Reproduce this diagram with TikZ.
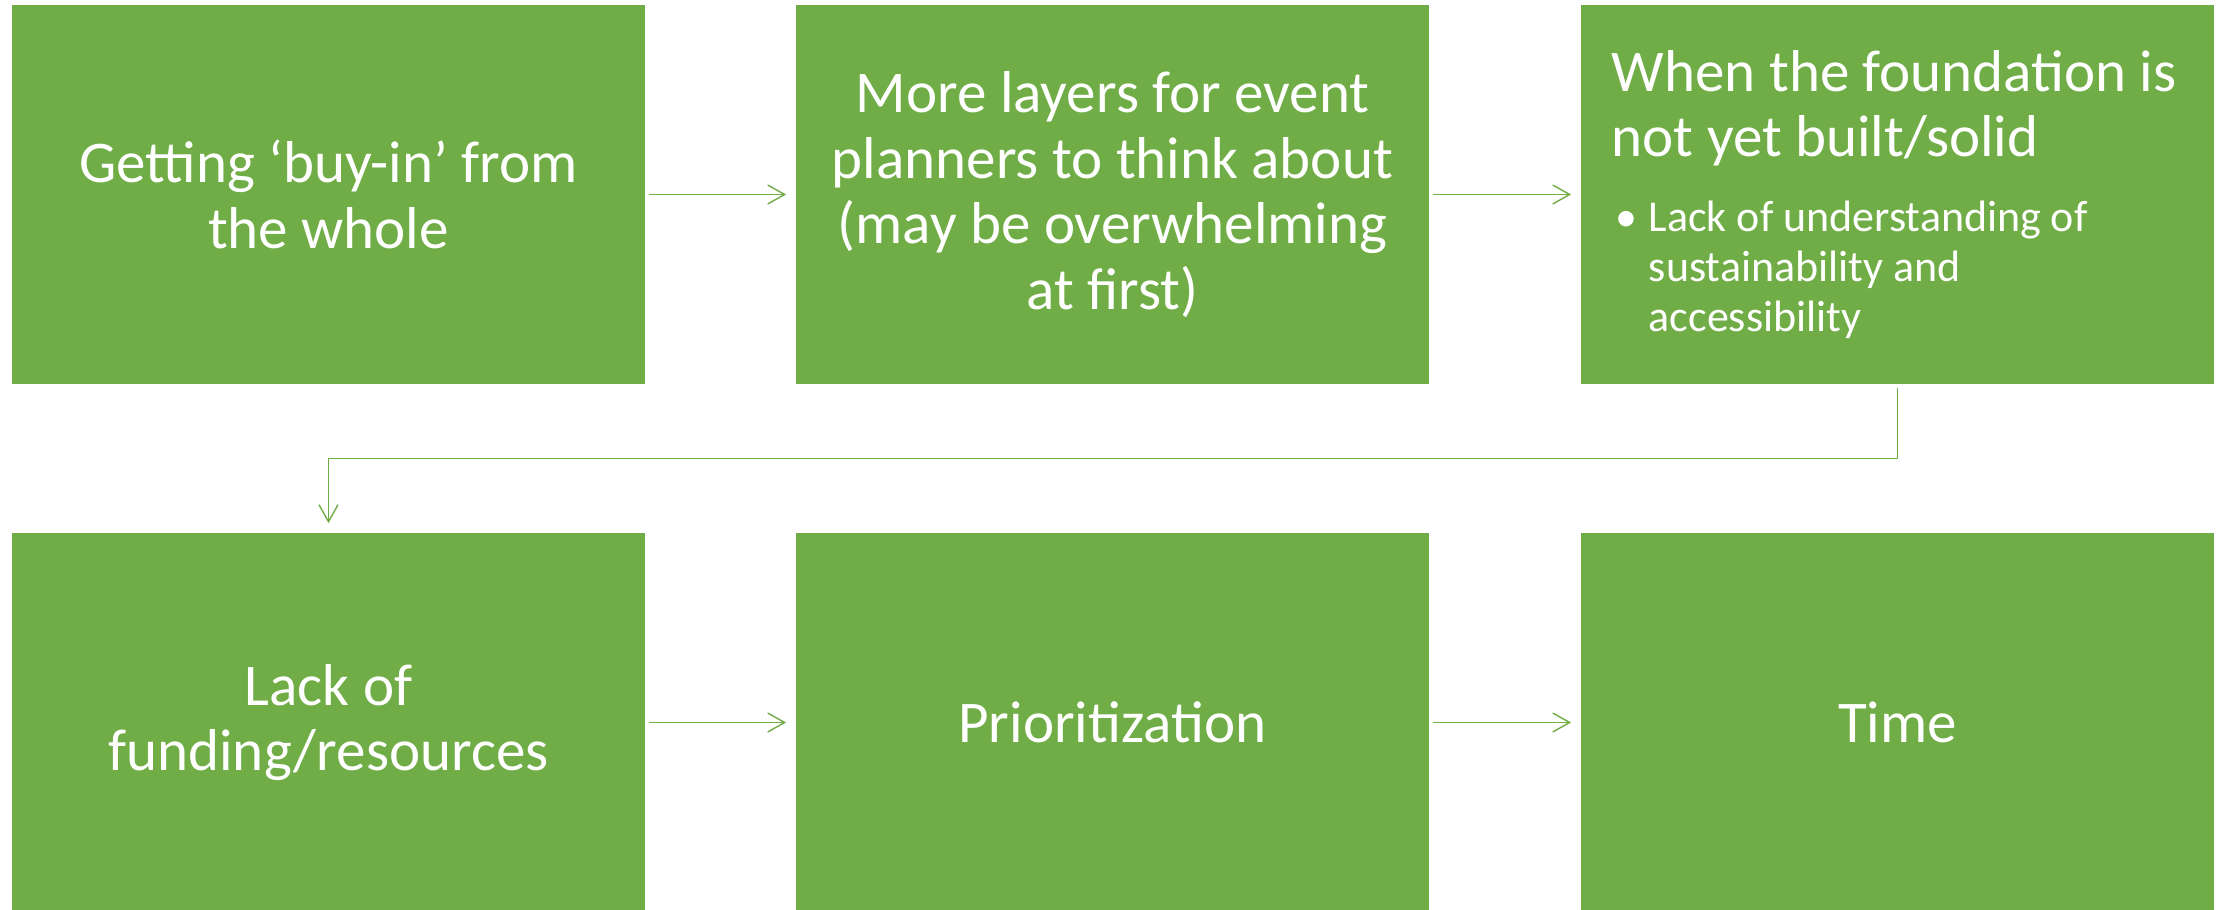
\documentclass[tikz,border=0pt]{standalone}
\usepackage{fontspec}
\setmainfont{Carlito}
\usetikzlibrary{arrows.meta,calc}
\definecolor{leafgreen}{RGB}{112,173,71}
\tikzset{
  stage/.style={fill=leafgreen, minimum width=6.33cm, minimum height=3.79cm,
    inner sep=0pt, text=white, align=center, font=\fontsize{16.8}{18.7}\selectfont},
  flow/.style={draw=leafgreen, line width=0.4pt,
    -{Straight Barb[length=0.17cm,width=0.19cm]}, shorten <=0.03cm, shorten >=0.09cm}
}
\begin{document}
\begin{tikzpicture}[x=0.01cm,y=-0.01cm]
\useasboundingbox (0,0) rectangle (2218,910);
% top row
\node[stage] (buyin) at (328.5,194.5) {Getting ‘buy-in’ from\\the whole};
\node[stage] (layers) at (1112.5,194.5) {More layers for event\\planners to think about\\(may be overwhelming\\at first)};
\node[stage] (found) at (1897.5,194.5) {};
\node[anchor=west, inner sep=0pt, text=white] (foundtext) at ($(found.west)+(31,0)$) {%
  \begin{minipage}{6cm}
  \fontsize{16.8}{18.5}\selectfont
  \noindent When the foundation is\newline not yet built/solid\par
  \vspace{7pt}
  \fontsize{12.5}{14.2}\selectfont
  \hangindent=0.37cm \hangafter=0
  \noindent\llap{\makebox[0.37cm][l]{\hspace{0.04cm}\textbullet}}Lack of understanding of\newline sustainability and\newline accessibility\par
  \end{minipage}};
% bottom row
\node[stage] (funding) at (328.5,722.5) {Lack of\\funding/resources};
\node[stage] (priority) at (1112.5,722.5) {Prioritization};
\node[stage] (time) at (1897.5,722.5) {Time};
% connectors
\draw[flow] (buyin) -- (layers);
\draw[flow] (layers) -- (found);
\coordinate (bend) at ($(found.south)!.5!(funding.north)$);
\draw[flow] (found.south) -- (found.south |- bend) -| (funding.north);
\draw[flow] (funding) -- (priority);
\draw[flow] (priority) -- (time);
\end{tikzpicture}
\end{document}
